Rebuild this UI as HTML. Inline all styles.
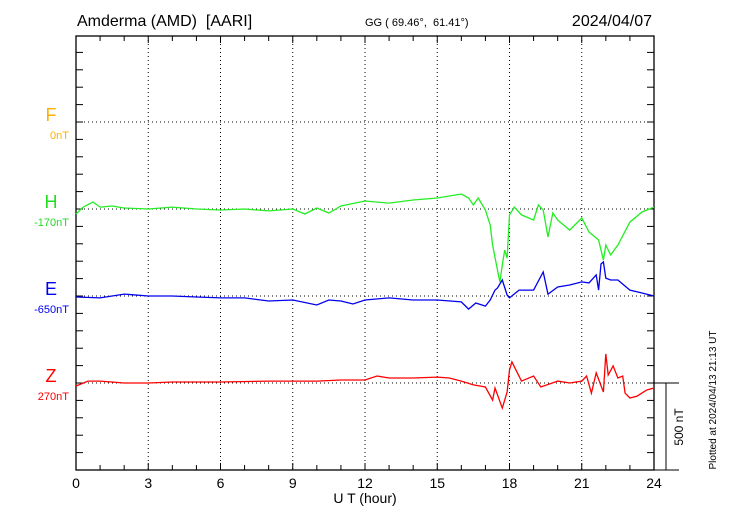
<!DOCTYPE html>
<html><head><meta charset="utf-8"><style>
body{margin:0;background:#fff}
svg{display:block;font-family:"Liberation Sans",sans-serif}
text{white-space:pre}
</style></head><body>
<svg id="chart" width="730" height="520">
<text x="77" y="26" font-size="16">Amderma (AMD)  [AARI]</text>
<text x="365" y="26" font-size="11">GG ( 69.46°,  61.41°)</text>
<text x="652" y="26" font-size="16" text-anchor="end">2024/04/07</text>
<text x="365" y="503" font-size="14" text-anchor="middle">U T (hour)</text>
<text transform="translate(683,427) rotate(-90)" font-size="12" text-anchor="middle">500 nT</text>
<text transform="translate(716,400) rotate(-90)" font-size="10" text-anchor="middle">Plotted at 2024/04/13 21:13 UT</text>
<g id="labels"></g>
<g id="grid"></g>
<g id="series"></g>
</svg>
<script>
const hTimes=[0,0.3,0.7,1,1.5,2,3,4,5,6,7,8,9,9.5,10,10.5,11,12,13,14,15,16,16.3,16.5,16.7,17,17.2,17.3,17.5,17.6,17.7,17.8,17.9,18,18.2,18.5,19,19.2,19.4,19.6,19.8,20,20.5,21,21.3,21.7,21.9,22,22.2,22.5,23,23.5,24];
const hValues=[-29,11,40,11,17,6,0,11,0,-6,0,-11,0,-29,6,-23,17,46,34,52,63,86,63,23,63,-6,-92,-207,-351,-420,-322,-236,-282,-34,11,-34,-63,23,-6,-161,-23,-63,-121,-52,-132,-178,-293,-207,-264,-207,-75,-17,11];
const eTimes=[0,1,2,3,4,5,6,7,8,9,10,10.5,11,11.5,12,13,14,15,16,16.3,16.6,17,17.2,17.4,17.5,17.7,17.9,18,18.4,19,19.4,19.6,20,20.5,21,21.3,21.6,21.7,21.8,21.9,22,22.2,22.5,23,23.5,24];
const eValues=[-6,-11,11,0,0,-6,-11,-11,-29,-23,-52,-23,-29,-46,-23,-11,-23,-23,-34,-75,-40,-58,-23,34,46,92,6,-11,34,34,138,11,52,63,81,75,121,34,184,196,103,92,92,34,17,0];
const zTimes=[0,0.5,1,2,3,4,6,8,10,11,12,12.5,13,14,15,15.5,16,16.5,17,17.3,17.4,17.7,17.9,18,18.1,18.5,19,19.3,20,20.5,21,21.2,21.4,21.6,21.9,22,22.1,22.3,22.5,22.7,22.8,23,23.3,23.7,24];
const zValues=[-17,11,11,0,0,6,6,11,11,17,17,40,29,29,34,29,11,-11,-23,-98,-29,-144,-52,75,121,11,40,-23,11,0,11,40,-58,58,-52,167,46,98,29,40,-58,-86,-75,-40,-29];
const xTicks=[0,3,6,9,12,15,18,21,24];
const NS="http://www.w3.org/2000/svg";
const X0=76,X1=654,Y0=36,Y1=470;
const pxPerNT=87/500;
const xs=h=>X0+(X1-X0)*h/24;
const ys=(base,v)=>base-v*pxPerNT;
function mk(tag,attrs,parent){const e=document.createElementNS(NS,tag);for(const k in attrs)e.setAttribute(k,attrs[k]);parent.appendChild(e);return e;}
const grid=document.getElementById('grid'),ser=document.getElementById('series'),lab=document.getElementById('labels');
let fr=mk('rect',{x:X0,y:Y0,width:X1-X0,height:Y1-Y0,fill:'none',stroke:'#000','stroke-width':1.3},grid);


const bases=[122,209,296,383];
bases.forEach((b,i)=>{const l=mk('line',{x1:X0,x2:X1,y1:b,y2:b,stroke:'#000','stroke-dasharray':'1,3'},grid);

});
xTicks.forEach(t=>{const x=xs(t);
if(t>0&&t<24){const l=mk('line',{x1:x,x2:x,y1:Y0,y2:Y1,stroke:'#000','stroke-dasharray':'1,3'},grid);

}
const tx=mk('text',{x:x,y:488,'font-size':14,'text-anchor':'middle'},grid);tx.textContent=t;

});
for(let h=0;h<=24;h++){const x=xs(h),len=h%3===0?7:5;
mk('line',{x1:x,x2:x,y1:Y0,y2:Y0+len,stroke:'#000'},grid);
mk('line',{x1:x,x2:x,y1:Y1,y2:Y1-len,stroke:'#000'},grid);}
for(let y=Y1;y>=Y0;y-=87/5){mk('line',{x1:X0,x2:X0+7,y1:y,y2:y,stroke:'#000'},grid);mk('line',{x1:X1,x2:X1-7,y1:y,y2:y,stroke:'#000'},grid);}
mk('line',{x1:X1,x2:679,y1:383,y2:383,stroke:'#000'},grid);
mk('line',{x1:X1,x2:679,y1:470,y2:470,stroke:'#000'},grid);
let sb=mk('line',{x1:666,x2:666,y1:383,y2:470,stroke:'#000'},grid);


const comps=[['F','0nT','#ffb000',122],['H','-170nT','#22dd22',209],['E','-650nT','#0000ee',296],['Z','270nT','#ff0000',383]];
comps.forEach(c=>{const a=mk('text',{x:51,y:c[3]-1,'font-size':18,'text-anchor':'middle',fill:c[2]},lab);a.textContent=c[0];


const b=mk('text',{x:69,y:c[3]+17,'font-size':11,'text-anchor':'end',fill:c[2]},lab);b.textContent=c[1];

});
[[hTimes,hValues,209,'#22ee22','h-series'],[eTimes,eValues,296,'#0000ee','e-series'],[zTimes,zValues,383,'#ff0000','z-series']].forEach(s=>{
const d=s[0].map((t,i)=>(i?'L':'M')+xs(t).toFixed(1)+','+ys(s[2],s[1][i]).toFixed(1)).join('');
const p=mk('path',{d:d,fill:'none',stroke:s[3],'stroke-width':1.3},ser);

});
</script>
</body></html>
